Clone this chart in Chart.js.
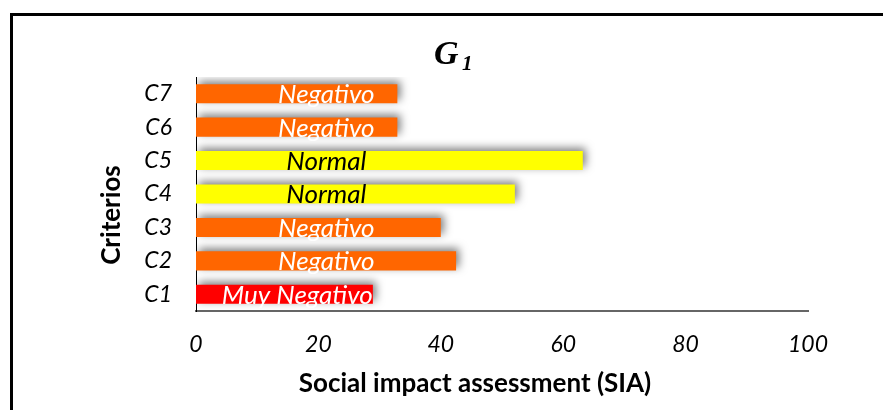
<!DOCTYPE html>
<html>
<head>
<meta charset="utf-8">
<script src="https://cdn.jsdelivr.net/npm/chart.js@4.4.0/dist/chart.umd.min.js"></script>
<style>
    body { margin: 0; background: #fff; }
    #frame {
        position: absolute; left: 10px; top: 13px;
        width: 900px; height: 420px;
        border-left: 3px solid #000; border-top: 3px solid #000;
    }
    #wrap { position: absolute; left: 0; top: 0; width: 883px; height: 410px; }
</style>
</head>
<body>
<div id="frame"></div>
<div id="wrap"><canvas id="Chart1"></canvas></div>
<script>
// =========== data
const categories = ["C1", "C2", "C3", "C4", "C5", "C6", "C7"];
const siaValues = [28.9, 42.5, 40.0, 52.1, 63.2, 32.9, 32.9];
const ratings = ["Muy Negativo", "Negativo", "Negativo", "Normal", "Normal", "Negativo", "Negativo"];
const xTicks = [0, 20, 40, 60, 80, 100];

const ratingColors = { "Muy Negativo": "#FF0000", "Negativo": "#FF6600", "Normal": "#FFFF00" };
const ratingText = { "Muy Negativo": "#FFFFFF", "Negativo": "#FFFFFF", "Normal": "#000000" };
const LABEL_AT = 21.3; // value where the bar labels are centred

// shadow behind the bars
const barShadow = {
    id: "barShadow",
    beforeDatasetsDraw(chart) {
        const c = chart.ctx;
        c.save();
        c.shadowColor = "rgba(0,0,0,0.5)";
        c.shadowBlur = 8;
        c.shadowOffsetX = 3;
        c.shadowOffsetY = -3;
    },
    afterDatasetsDraw(chart) {
        chart.ctx.restore();
    },
};

// labels inside the bars, titles
const extraText = {
    id: "extraText",
    afterDraw(chart) {
        const c = chart.ctx;
        const x = chart.scales.x;
        const area = chart.chartArea;
        c.save();
        c.font = "italic 26px Lato";
        c.textBaseline = "middle";
        c.textAlign = "center";
        chart.getDatasetMeta(0).data.forEach((bar, i) => {
            const w = c.measureText(ratings[i]).width;
            const cx = Math.min(x.getPixelForValue(LABEL_AT), bar.x - w / 2);
            c.fillStyle = ratingText[ratings[i]];
            c.fillText(ratings[i], cx, bar.y + 1);
        });

        // chart title G1
        c.fillStyle = "#000";
        c.textAlign = "left";
        c.textBaseline = "alphabetic";
        c.font = "bold italic 34px 'Liberation Serif'";
        c.fillText("G", 434, 64);
        c.font = "bold italic 21px 'Liberation Serif'";
        c.fillText("1", 462, 70);

        // axis titles
        c.font = "bold 26px Lato";
        c.textAlign = "center";
        c.textBaseline = "middle";
        c.fillText("Social impact assessment (SIA)", area.left + 279, 384);
        c.translate(112, area.top + 138);
        c.rotate(-Math.PI / 2);
        c.fillText("Criterios", 0, 0);
        c.restore();
    },
};

const ctx1 = document.getElementById("Chart1").getContext("2d");
const chart1 = new Chart(ctx1, {
    type: "bar",
    data: {
        labels: categories,
        datasets: [
            {
                label: "SIA",
                data: siaValues,
                backgroundColor: ratings.map((r) => ratingColors[r]),
                borderWidth: 0,
                barPercentage: 0.57,
                categoryPercentage: 1,
            },
        ],
    },
    options: {
        indexAxis: "y",
        responsive: true,
        maintainAspectRatio: false,
        animation: false,
        layout: {
            padding: { top: 77, right: 75, bottom: 0, left: 0 },
        },
        plugins: {
            legend: { display: false },
            title: { display: false },
            tooltip: { enabled: false },
        },
        scales: {
            x: {
                min: 0,
                max: 100,
                afterBuildTicks: (s) => {
                    s.ticks = xTicks.map((v) => ({ value: v }));
                },
                afterFit: (s) => {
                    s.height = 99;
                },
                grid: { display: false, drawTicks: false },
                border: { display: true, color: "#666666", width: 2 },
                ticks: {
                    padding: 20,
                    color: "#000",
                    font: { family: "Lato", size: 23, style: "italic" },
                },
            },
            y: {
                reverse: true,
                afterFit: (s) => {
                    s.width = 196;
                },
                grid: { display: false, drawTicks: false },
                border: { display: true, color: "#000000", width: 1 },
                ticks: {
                    padding: 24,
                    color: "#000",
                    font: { family: "Lato", size: 23, style: "italic" },
                },
            },
        },
    },
    plugins: [barShadow, extraText],
});
</script>
</body>
</html>
